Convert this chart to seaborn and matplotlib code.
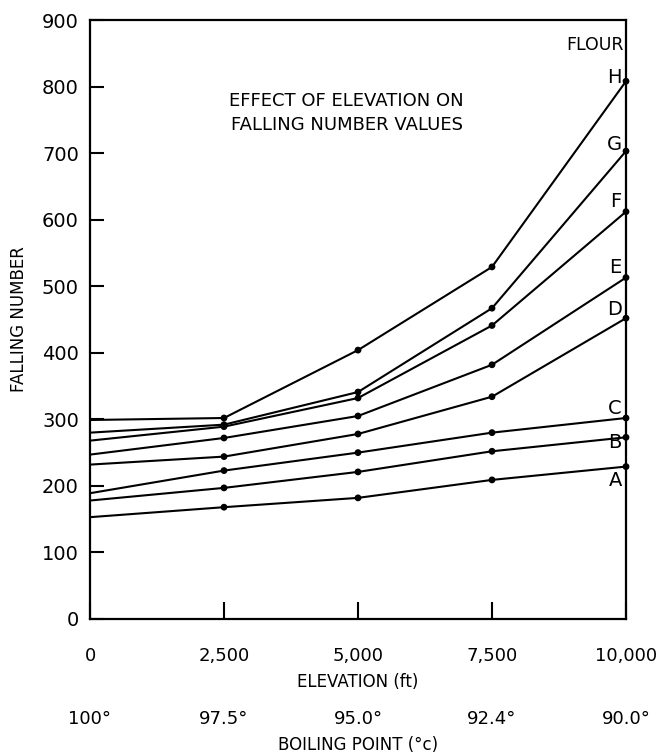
import matplotlib
matplotlib.use("Agg")
import matplotlib.pyplot as plt
import seaborn as sns
import pandas as pd

# data
elevation = [0, 2500, 5000, 7500, 10000]
boiling_labels = ["100°", "97.5°", "95.0°", "92.4°", "90.0°"]
flours = ["A", "B", "C", "D", "E", "F", "G", "H"]
flour_a = [153, 168, 182, 209, 229]
flour_b = [178, 197, 221, 252, 273]
flour_c = [189, 223, 250, 280, 302]
flour_d = [232, 244, 278, 334, 452]
flour_e = [247, 272, 305, 382, 513]
flour_f = [268, 289, 332, 441, 612]
flour_g = [280, 292, 341, 467, 703]
flour_h = [299, 302, 404, 529, 808]
values = [flour_a, flour_b, flour_c, flour_d, flour_e, flour_f, flour_g, flour_h]

rows = []
for name, vals in zip(flours, values):
    for x, y in zip(elevation, vals):
        rows.append({"elevation": x, "falling": y, "flour": name})
df = pd.DataFrame(rows)

sns.set_style("ticks")
plt.rcParams["font.family"] = ["DejaVu Sans"]
for k in ["text.color", "axes.labelcolor", "xtick.color", "ytick.color", "axes.edgecolor"]:
    plt.rcParams[k] = "black"

fig = plt.figure(figsize=(6.62, 7.55), dpi=100)
ax = fig.add_axes([90 / 662, 1 - 619 / 755, (626 - 90) / 662, (619 - 20) / 755])

black = {f: "black" for f in flours}
sns.lineplot(data=df, x="elevation", y="falling", hue="flour", palette=black,
             linewidth=1.5, legend=False, ax=ax)
sns.scatterplot(data=df[df["elevation"] > 0], x="elevation", y="falling", hue="flour",
                palette=black, s=24, edgecolor="black", linewidth=0, legend=False,
                ax=ax, zorder=3, clip_on=False)

ax.set_xlim(0, 10000)
ax.set_ylim(0, 900)
ax.set_xticks(elevation)
ax.set_xticklabels(["0", "2,500", "5,000", "7,500", "10,000"], fontsize=13)
ax.set_yticks(range(0, 901, 100))
ax.set_yticklabels([str(v) for v in range(0, 901, 100)], fontsize=14)
ax.tick_params(axis="x", direction="in", length=12, width=1.5, pad=20)
ax.tick_params(axis="y", direction="in", length=10, width=1.5, pad=8)
for s in ax.spines.values():
    s.set_linewidth(1.6)

ax.set_xlabel("ELEVATION (ft)", fontsize=12, labelpad=6)
ax.set_ylabel("FALLING NUMBER", fontsize=12)
ax.yaxis.set_label_coords(-0.115, 0.5)

sec = ax.secondary_xaxis(-0.152)
sec.set_xticks(elevation)
sec.set_xticklabels(boiling_labels, fontsize=13)
sec.tick_params(length=0, pad=0)
sec.spines["bottom"].set_visible(False)
sec.set_xlabel("BOILING POINT (°c)", fontsize=12, labelpad=6)

ax.text(0.479, 0.88, "EFFECT OF ELEVATION ON\nFALLING NUMBER VALUES", transform=ax.transAxes,
        ha="center", va="top", fontsize=13, linespacing=1.45)
ax.text(0.995, 0.958, "FLOUR", transform=ax.transAxes, ha="right", va="center", fontsize=12.5)

# vertical offsets (points) of the end labels
label_dy = {"A": -10, "B": -4, "C": 7, "D": 6, "E": 7, "F": 7, "G": 5, "H": 3}
for name, vals in zip(flours, values):
    ax.annotate(name, (elevation[-1], vals[-1]), xytext=(-3, label_dy[name]),
                textcoords="offset points", ha="right", va="center", fontsize=14)

fig.savefig("out.png", dpi=100)
plt.close(fig)
